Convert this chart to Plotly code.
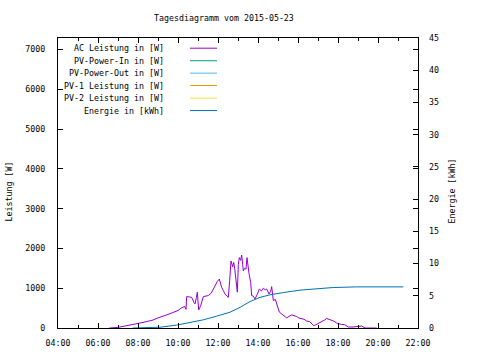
import plotly.graph_objects as go

DAY = "2015-05-23"
FONT = "DejaVu Sans Mono"
FS = 8.3

ac_times = ["06:34","06:45","07:00","07:15","07:30","07:45","08:00","08:15","08:30","08:45",
            "09:00","09:15","09:30","09:45","10:00","10:10","10:20","10:24","10:26","10:35",
            "10:41","10:48","10:51","10:55","10:58","11:02","11:08","11:16","11:25","11:31",
            "11:40","11:46","11:53","11:58","12:04","12:08","12:11","12:16","12:21","12:27",
            "12:31","12:35","12:39","12:44","12:47","12:50","12:53","12:58","13:01","13:04",
            "13:08","13:11","13:14","13:16","13:20","13:24","13:27","13:29","13:33","13:38",
            "13:41","13:46","13:51","13:58","14:04","14:10","14:16","14:22","14:26","14:33",
            "14:38","14:41","14:46","14:52","14:58","15:04","15:10","15:16","15:22","15:26",
            "15:33","15:41","15:48","15:56","16:03","16:10","16:18","16:26","16:35","16:42",
            "16:46","16:52","17:00","17:11","17:20","17:26","17:33","17:41","17:48","17:56",
            "18:03","18:10","18:20","18:31","18:45","19:00","19:11","19:21","19:56"]
ac_values = [0,5,15,40,60,85,115,140,170,200,
             255,290,340,390,440,505,540,470,790,780,
             770,640,605,760,900,455,560,790,800,815,
             880,980,1080,1170,1230,1100,1020,940,855,800,
             770,1190,1685,1540,1650,1500,1190,900,1600,1770,
             1700,1835,1600,1435,1500,1480,1770,1600,1370,1145,
             815,800,730,850,980,930,1000,960,980,855,
             920,1040,690,720,565,400,360,315,290,255,
             290,330,310,290,250,230,220,175,160,100,
             65,75,110,150,200,240,220,190,170,125,
             100,90,85,25,25,30,50,0,0]

en_times = ["07:44","08:36","09:06","09:56","10:36","11:16","11:56","12:36","13:06","13:36",
            "14:06","14:36","15:16","16:06","17:06","17:46","18:56","21:16"]
en_values = [0,0.05,0.12,0.45,0.8,1.27,1.84,2.45,3.2,4.1,
             4.75,5.15,5.5,5.87,6.12,6.28,6.38,6.38]

legend_labels = ["AC Leistung in [W]", "PV-Power-In in [W]", "PV-Power-Out in [W]",
                 "PV-1 Leistung in [W]", "PV-2 Leistung in [W]", "Energie in [kWh]"]
legend_colors = ["#9400D3", "#009E73", "#56B4E9", "#E69F00", "#F0E442", "#0072B2"]

fig = go.Figure()
fig.add_trace(go.Scatter(x=[f"{DAY} {t}" for t in ac_times], y=ac_values, mode="lines",
                         line=dict(color=legend_colors[0], width=1), showlegend=False))
fig.add_trace(go.Scatter(x=[f"{DAY} {t}" for t in en_times], y=en_values, mode="lines",
                         line=dict(color=legend_colors[5], width=1), yaxis="y2", showlegend=False))

# plot area geometry (pixels)
L, R, T, B = 58, 418, 38, 331
W, H = R - L, B - T
def px(x): return (x - L) / W
def py(y): return (B - y) / H

annotations = []
shapes = []
row_y = [48.3, 61, 73.5, 86, 98.7, 111.3]
for lab, col, yy in zip(legend_labels, legend_colors, row_y):
    annotations.append(dict(text=lab, x=px(166), y=py(yy), xref="paper", yref="paper",
                            xanchor="right", yanchor="middle", showarrow=False,
                            font=dict(family=FONT, size=FS, color="black")))
    shapes.append(dict(type="line", xref="paper", yref="paper", x0=px(190), x1=px(217),
                       y0=py(yy), y1=py(yy), line=dict(color=col, width=1)))

annotations.append(dict(text="Leistung [W]", x=px(9), y=py(193), xref="paper", yref="paper",
                        xanchor="center", yanchor="middle",
                        textangle=-90, showarrow=False, font=dict(family=FONT, size=FS, color="black")))
annotations.append(dict(text="Energie [kWh]", x=px(452), y=py(193), xref="paper", yref="paper",
                        xanchor="center", yanchor="middle",
                        textangle=-90, showarrow=False, font=dict(family=FONT, size=FS, color="black")))
annotations.append(dict(text="Tagesdiagramm vom 2015-05-23", x=px(224), y=py(18), xref="paper",
                        yref="paper", xanchor="center", yanchor="middle",
                        showarrow=False, font=dict(family=FONT, size=FS, color="black")))

fig.update_layout(
    width=480, height=360,
    margin=dict(l=L, r=480 - R, t=T, b=360 - B, pad=0),
    paper_bgcolor="white", plot_bgcolor="white",
    font=dict(family=FONT, size=FS, color="black"),
    annotations=annotations, shapes=shapes, showlegend=False,
    xaxis=dict(type="date", range=[f"{DAY} 04:00", f"{DAY} 22:00"], dtick=2 * 3600000,
               tick0=f"{DAY} 04:00", tickformat="%H:%M", ticks="inside", ticklen=5,
               tickcolor="black", showline=True, linecolor="black", linewidth=1, mirror="ticks",
               showgrid=False, zeroline=False, ticklabelstandoff=7,
               minor=dict(dtick=3600000, ticks="inside", ticklen=3, tickcolor="black", showgrid=False)),
    yaxis=dict(range=[0, 7290], tickvals=[0, 1000, 2000, 3000, 4000, 5000, 6000, 7000],
               ticks="inside", ticklen=5, tickcolor="black", showline=True, linecolor="black",
               linewidth=1, mirror="ticks", showgrid=False, zeroline=False, ticklabelstandoff=10),
    yaxis2=dict(range=[0, 45], tickvals=[0, 5, 10, 15, 20, 25, 30, 35, 40, 45], overlaying="y",
                side="right", ticks="inside", ticklen=5, tickcolor="black", showline=False,
                showgrid=False, zeroline=False, ticklabelstandoff=10),
)

fig.write_html("out.html", config={"displayModeBar": False},
               post_script="document.body.style.margin='0';")
